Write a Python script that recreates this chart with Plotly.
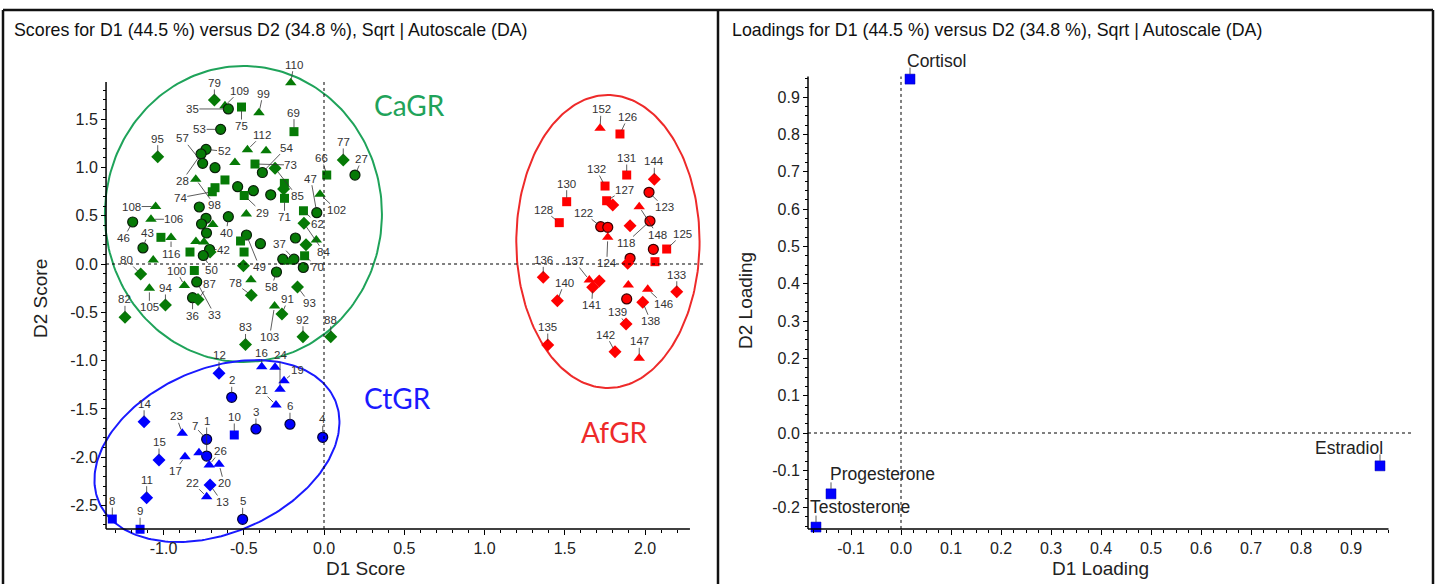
import numpy as np
import plotly.graph_objects as go

# ------------------------------------------------------------------
# DATA
# ------------------------------------------------------------------
# CaGR group (green)
ca_lab = ["110", "79", "109", "35", "75", "99", "69", "53", "95", "52", "28", "57", "",
          "112", "", "", "54", "73", "85", "77", "27", "66", "47", "102", "98", "", "",
          "74", "", "", "29", "", "", "71", "62", "84", "", "", "", "", "37", "70", "",
          "", "58", "", "49", "", "", "", "", "78", "93", "91", "103", "92", "88", "83",
          "108", "106", "46", "43", "", "116", "", "80", "105", "94", "82", "", "", "",
          "40", "", "", "", "42", "", "", "", "50", "", "", "100", "33", "36", "87", ""]
ca_sym = ["^", "d", "^", "o", "s", "^", "s", "o", "d", "o", "o", "o", "o",
          "^", "^", "^", "o", "s", "d", "d", "o", "s", "o", "^", "^", "s", "s",
          "s", "o", "o", "s", "o", "s", "s", "s", "d", "^", "o", "d", "o", "o", "s", "o",
          "^", "o", "d", "o", "o", "s", "s", "^", "d", "d", "d", "^", "d", "d", "d",
          "^", "^", "o", "o", "s", "^", "^", "d", "^", "d", "d", "o", "o", "o",
          "o", "^", "^", "o", "o", "^", "^", "d", "o", "s", "s", "^", "o", "o", "d", "d"]
ca_x = [-0.207, -0.683, -0.617, -0.596, -0.514, -0.405, -0.187, -0.644, -1.036, -0.735, -0.766, -0.756, -0.679,
        -0.477, -0.361, -0.555, -0.384, -0.430, -0.305, 0.120, 0.193, 0.017, -0.045, -0.025, -0.799, -0.617, -0.679,
        -0.696, -0.538, -0.440, -0.497, -0.332, -0.247, -0.246, -0.128, -0.125, -0.048, -0.178, -0.112, -0.257, -0.187, -0.121, -0.129,
        -0.218, -0.296, -0.502, -0.483, -0.396, -0.520, -0.498, -0.455, -0.453, -0.165, -0.262, -0.308, -0.131, 0.042, -0.489,
        -1.049, -1.078, -1.192, -1.128, -1.016, -0.953, -1.064, -1.142, -1.088, -0.988, -1.240, -0.777, -0.735, -0.763,
        -0.596, -0.693, -0.484, -0.732, -0.713, -0.798, -0.748, -0.710, -0.752, -0.835, -0.808, -0.870, -0.793, -0.819, -0.785, -0.252]
ca_y = [1.877, 1.698, 1.639, 1.605, 1.625, 1.566, 1.370, 1.394, 1.111, 1.187, 1.139, 1.042, 0.997,
        1.183, 1.173, 1.051, 0.947, 1.035, 0.991, 1.077, 0.921, 0.921, 0.531, 0.722, 0.877, 0.870, 0.790,
        0.748, 0.800, 0.759, 0.709, 0.716, 0.835, 0.680, 0.551, 0.421, 0.248, 0.269, 0.200, 0.050, 0.050, 0.085, -0.036,
        0.021, -0.083, -0.019, 0.300, 0.210, 0.238, 0.124, -0.164, -0.324, -0.238, -0.518, -0.435, -0.753, -0.753, -0.833,
        0.595, 0.463, 0.435, 0.166, 0.276, 0.274, 0.041, -0.104, -0.252, -0.424, -0.552, 0.590, 0.473, 0.414,
        0.490, 0.409, 0.518, 0.321, 0.150, 0.233, 0.228, 0.124, 0.088, 0.124, -0.067, -0.223, -0.186, -0.349, -0.367, 0.776]

# CtGR group (blue)
ct_lab = ["12", "16", "", "24", "19", "2", "21", "6", "14", "23", "7", "1", "10", "3", "4",
          "15", "17", "", "26", "20", "13", "22", "11", "5", "8", "9"]
ct_sym = ["d", "^", "^", "^", "^", "o", "^", "o", "d", "^", "o", "o", "s", "o", "o",
          "d", "^", "^", "^", "^", "d", "^", "d", "o", "s", "s"]
ct_x = [-0.654, -0.388, -0.305, -0.274, -0.249, -0.575, -0.299, -0.212, -1.121, -0.883, -0.731, -0.731, -0.559, -0.424, -0.008,
        -1.028, -0.866, -0.779, -0.715, -0.654, -0.710, -0.731, -1.105, -0.507, -1.319, -1.146]
ct_y = [-1.131, -1.063, -1.069, -1.297, -1.208, -1.380, -1.460, -1.659, -1.633, -1.753, -1.815, -1.988, -1.770, -1.708, -1.794,
        -2.029, -1.995, -1.953, -2.081, -2.073, -2.288, -2.409, -2.419, -2.643, -2.640, -2.746]

# AfGR group (red)
af_lab = ["152", "126", "131", "144", "132", "130", "127", "", "123", "148", "128", "122", "", "",
          "118", "124", "125", "", "", "", "", "136", "137", "", "141", "140", "", "146", "133",
          "", "138", "139", "135", "142", "147"]
af_sym = ["^", "s", "s", "d", "s", "s", "s", "d", "o", "^", "s", "o", "o", "d",
          "o", "^", "s", "o", "o", "d", "s", "d", "^", "d", "d", "d", "^", "^", "d",
          "o", "d", "d", "d", "d", "^"]
af_x = [1.720, 1.844, 1.886, 2.058, 1.751, 1.512, 1.761, 1.799, 2.025, 1.964, 1.466, 1.724, 1.768, 1.907,
        2.031, 1.768, 2.135, 2.052, 1.907, 1.892, 2.062, 1.366, 1.653, 1.715, 1.674, 1.454, 1.896, 2.017, 2.198,
        1.886, 1.986, 1.882, 1.394, 1.813, 1.964]
af_y = [1.405, 1.346, 0.921, 0.877, 0.807, 0.645, 0.655, 0.611, 0.742, 0.593, 0.428, 0.386, 0.380, 0.396,
        0.445, 0.276, 0.155, 0.152, 0.059, 0.007, 0.024, -0.138, -0.166, -0.176, -0.241, -0.380, -0.217, -0.262, -0.287,
        -0.362, -0.396, -0.621, -0.839, -0.908, -0.976]

# Loadings
ld_names = ["Cortisol", "Progesterone", "Testosterone", "Estradiol"]
ld_x = [0.018, -0.140, -0.170, 0.958]
ld_y = [0.948, -0.163, -0.252, -0.088]

# group ellipses: centre x, centre y, semi-axis a, semi-axis b, angle (deg)
ell_ca = (-0.502, 0.518, 0.863, 1.532, 0.0)
ell_ct = (-0.667, -1.936, 1.005, 0.678, 61.8)
ell_af = (1.769, 0.233, 0.571, 1.517, 0.0)

title_scores = "Scores for D1 (44.5 %) versus D2 (34.8 %), Sqrt | Autoscale (DA)"
title_loads = "Loadings for D1 (44.5 %) versus D2 (34.8 %), Sqrt | Autoscale (DA)"

# ------------------------------------------------------------------
# label offsets (pixels, text centre relative to point)
# ------------------------------------------------------------------
ca_off = [(3, -18), (0, -17), (15, -15), (-36, 0), (0, 19), (4, -19), (0, -19), (-21, 0), (0, -18), (18, 2), (-19, 27), (-20, -25), None,
          (15, -15), None, None, (24, -25), (36, 1), (22, 28), (0, -18), (7, -16), (-5, -17), (-6, -34), (17, 16), (19, 26), None, None,
          (-32, 6), None, None, (18, 17), None, None, (0, 19), (14, 13), (20, 29), None, None, None, None, (-14, -15), (13, 11), None,
          None, (-5, 15), None, (13, 32), None, None, None, None, (-16, -12), (12, 16), (6, -15), (-5, 31), (0, -17), (0, -17), (0, -17),
          (-24, 0), (23, 0), (-9, 16), (5, -15), None, (0, 16), None, (-14, -14), (0, 19), (0, -17), (0, -18), None, None, None,
          (-2, 16), None, None, None, (14, 0), None, None, None, (8, 14), None, None, (-8, -15), (18, 33), (0, 18), (11, -15), None]
ct_off = [(0, -18), (0, -14), None, (0, -34), (13, -11), (0, -17), (-15, -15), (0, -18), (0, -18), (-6, -17), (-12, -13), (0, -35),
          (0, -18), (0, -17), (0, -18), (0, -18), (-10, 14), None, (11, -14), (5, 19), (12, 17), (-14, -14), (0, -18), (0, -18),
          (0, -18), (0, -18)]
af_off = [(1, -19), (8, -17), (0, -17), (0, -18), (-9, -17), (0, -18), (18, -11), None, (15, 15), (18, 28), (-16, -13), (-17, -14),
          None, None, (-24, 22), (-1, 26), (16, -15), None, None, None, None, (0, -17), (-15, -19), None, (-1, 18), (7, -18), None,
          (16, 15), (0, -17), None, (8, 19), (-9, -12), (0, -18), (-9, -17), (0, -17)]

# ------------------------------------------------------------------
# geometry of the page (pixels)
# ------------------------------------------------------------------
W, H = 1435, 584
FONT = "Liberation Sans, Arial, sans-serif"
GFONT = "Lato, Open Sans, sans-serif"


def fx(p):
    return p / W


def fy(p):
    return 1 - p / H


# scores panel: axis extents (data) and plot-area pixels
S_X0, S_X1, S_Y0, S_Y1 = -1.358, 2.28, -2.743, 1.884
S_PX = (85, 705)
S_PY = (55, 550)
S_XR = [(85 - 324) / 160.5, (705 - 324) / 160.5]
S_YR = [(264 - 550) / 96.6, (264 - 55) / 96.6]

# loadings panel
L_X0, L_X1, L_Y0, L_Y1 = -0.186, 0.975, -0.257, 0.955
L_PX = (795, 1425)
L_PY = (55, 550)
L_XR = [(795 - 901) / 500.0, (1425 - 901) / 500.0]
L_YR = [(433 - 550) / 373.3, (433 - 55) / 373.3]

SYM = {"o": "circle", "s": "square", "^": "triangle-up", "d": "diamond"}
SIZE = {"o": 10, "s": 9, "^": 10, "d": 10}

fig = go.Figure()


def ellipse(p, color):
    cx, cy, a, b, ang = p
    t = np.linspace(0, 2 * np.pi, 241)
    th = np.deg2rad(ang)
    ex = cx + a * np.cos(t) * np.cos(th) - b * np.sin(t) * np.sin(th)
    ey = cy + a * np.cos(t) * np.sin(th) + b * np.sin(t) * np.cos(th)
    fig.add_trace(go.Scatter(x=ex, y=ey, mode="lines", line=dict(color=color, width=2),
                             hoverinfo="skip", showlegend=False, xaxis="x", yaxis="y"))


ellipse(ell_ca, "#1fa35a")
ellipse(ell_ct, "#1a1aff")
ellipse(ell_af, "#ee2a2a")


def group(xs, ys, syms, color, circ_edge):
    fig.add_trace(go.Scatter(
        x=xs, y=ys, mode="markers", xaxis="x", yaxis="y", showlegend=False, cliponaxis=False,
        marker=dict(symbol=[SYM[s] for s in syms], size=[SIZE[s] for s in syms], color=color, opacity=1,
                    line=dict(color=[circ_edge if s == "o" else color for s in syms],
                              width=[1.2 if s == "o" else 0 for s in syms]))))


group(ca_x, ca_y, ca_sym, "#067a06", "#0a200a")
group(ct_x, ct_y, ct_sym, "#0000ff", "#00003a")
group(af_x, af_y, af_sym, "#ff0000", "#3a0000")

annotations = []


def labels(xs, ys, labs, offs):
    for x, y, lab, off in zip(xs, ys, labs, offs):
        if not lab or off is None:
            continue
        annotations.append(dict(
            x=x, y=y, xref="x", yref="y", text=lab, showarrow=True, ax=off[0], ay=off[1],
            arrowhead=0, arrowwidth=0.8, arrowcolor="#333333", standoff=4,
            font=dict(family=FONT, size=11.5, color="#333333"), borderpad=0))


labels(ca_x, ca_y, ca_lab, ca_off)
labels(ct_x, ct_y, ct_lab, ct_off)
labels(af_x, af_y, af_lab, af_off)

# loadings markers
fig.add_trace(go.Scatter(x=ld_x, y=ld_y, mode="markers", xaxis="x2", yaxis="y2", showlegend=False,
                         cliponaxis=False,
                         marker=dict(symbol="square", size=10, color="#0000ff", opacity=1,
                                     line=dict(color="#0000aa", width=0.5))))
ld_text_shift = [(-5, 18, "left"), (-3, 20, "left"), (-8, 20, "left"), (5, 18, "right")]
for x, y, name, (xs, ys, anc) in zip(ld_x, ld_y, ld_names, ld_text_shift):
    annotations.append(dict(x=x, y=y, xref="x2", yref="y2", text=name, showarrow=False,
                            xanchor=anc, yanchor="middle", xshift=xs, yshift=ys,
                            font=dict(family=FONT, size=17.5, color="#222222")))
    annotations.append(dict(x=x, y=y, xref="x2", yref="y2", text="", showarrow=True, ax=0, ay=-13,
                            arrowhead=0, arrowwidth=0.8, arrowcolor="#333333", standoff=5))


def ptext(x, y, text, size, color, family=FONT, angle=0, anchor="center"):
    return dict(x=fx(x), y=fy(y), xref="paper", yref="paper", text=text, showarrow=False,
                xanchor=anchor, yanchor="middle", textangle=angle,
                font=dict(family=family, size=size, color=color))


annotations += [
    ptext(12, 30, title_scores, 17.8, "#111111", anchor="left"),
    ptext(730, 30, title_loads, 17.8, "#111111", anchor="left"),
    ptext(365, 568, "D1 Score", 19, "#222222"),
    ptext(40, 299, "D2 Score", 19, "#222222", angle=-90),
    ptext(1100, 568, "D1 Loading", 19, "#222222"),
    ptext(745, 300, "D2 Loading", 19, "#222222", angle=-90),
    ptext(409, 105, "CaGR", 28, "#1fa35a", family=GFONT),
    ptext(397, 398, "CtGR", 28, "#1a1aff", family=GFONT),
    ptext(614, 432, "AfGR", 28, "#ee2a2a", family=GFONT),
]

shapes = []
shapes += [
    dict(type="line", xref="x", yref="y", x0=S_X0, x1=S_X0, y0=S_Y0, y1=S_Y1, line=dict(color="black", width=1.5)),
    dict(type="line", xref="x", yref="y", x0=S_X0, x1=S_X1, y0=S_Y0, y1=S_Y0, line=dict(color="black", width=1.5)),
    dict(type="line", xref="x", yref="y", x0=0, x1=0, y0=S_Y0, y1=S_Y1, line=dict(color="black", width=1, dash="dot")),
    dict(type="line", xref="x", yref="y", x0=S_X0, x1=S_X1 + 0.1, y0=0, y1=0, line=dict(color="black", width=1, dash="dot")),
]
shapes += [
    dict(type="line", xref="x2", yref="y2", x0=L_X0, x1=L_X0, y0=L_Y0, y1=L_Y1, line=dict(color="black", width=1.5)),
    dict(type="line", xref="x2", yref="y2", x0=L_X0, x1=L_X1, y0=L_Y0, y1=L_Y0, line=dict(color="black", width=1.5)),
    dict(type="line", xref="x2", yref="y2", x0=0, x1=0, y0=L_Y0, y1=L_Y1, line=dict(color="black", width=1, dash="dot")),
    dict(type="line", xref="x2", yref="y2", x0=L_X0, x1=1.025, y0=0, y1=0, line=dict(color="black", width=1, dash="dot")),
]
frame = dict(color="#111111", width=2.5)
shapes += [
    dict(type="line", xref="paper", yref="paper", x0=fx(3), x1=fx(1433), y0=fy(10), y1=fy(10), line=frame),
    dict(type="line", xref="paper", yref="paper", x0=fx(3), x1=fx(3), y0=fy(10), y1=0, line=frame),
    dict(type="line", xref="paper", yref="paper", x0=fx(718), x1=fx(718), y0=fy(10), y1=0, line=frame),
    dict(type="line", xref="paper", yref="paper", x0=fx(1433), x1=fx(1433), y0=fy(10), y1=0, line=frame),
]

tickfont = dict(family=FONT, size=16, color="#222222")
s_xmaj = [-1.0, -0.5, 0.0, 0.5, 1.0, 1.5, 2.0]
s_ymaj = [-2.5, -2.0, -1.5, -1.0, -0.5, 0.0, 0.5, 1.0, 1.5]
s_xmin = [round(v, 2) for v in np.arange(-1.3, 2.25, 0.1)]
s_ymin = [round(v, 2) for v in np.arange(-2.7, 1.85, 0.1)]
l_xmaj = [round(v, 2) for v in np.arange(-0.1, 0.95, 0.1)]
l_ymaj = [round(v, 2) for v in np.arange(-0.2, 0.95, 0.1)]
l_xmin = [round(v, 3) for v in np.arange(-0.175, 0.976, 0.025)]
l_ymin = [round(v, 3) for v in np.arange(-0.25, 0.951, 0.025)]


def ax_common(tv, mv, fmt):
    return dict(tickmode="array", tickvals=tv, ticktext=[fmt.format(v) for v in tv],
                ticks="outside", ticklen=5, tickwidth=1, tickcolor="black",
                showline=False, showgrid=False, zeroline=False, tickfont=tickfont,
                minor=dict(tickmode="array", tickvals=mv, ticks="outside", ticklen=3,
                           tickwidth=1, tickcolor="black", showgrid=False),
                fixedrange=True)


fig.update_layout(
    width=W, height=H, margin=dict(l=0, r=0, t=0, b=0),
    paper_bgcolor="white", plot_bgcolor="rgba(0,0,0,0)", showlegend=False,
    xaxis=dict(domain=[fx(S_PX[0]), fx(S_PX[1])], range=S_XR, anchor="free", position=fy(529),
               **ax_common(s_xmaj, s_xmin, "{:.1f}")),
    yaxis=dict(domain=[fy(S_PY[1]), fy(S_PY[0])], range=S_YR, anchor="free", position=fx(106),
               **ax_common(s_ymaj, s_ymin, "{:.1f}")),
    xaxis2=dict(domain=[fx(L_PX[0]), fx(L_PX[1])], range=L_XR, anchor="free", position=fy(529),
                **ax_common(l_xmaj, l_xmin, "{:.1f}")),
    yaxis2=dict(domain=[fy(L_PY[1]), fy(L_PY[0])], range=L_YR, anchor="free", position=fx(808),
                **ax_common(l_ymaj, l_ymin, "{:.1f}")),
    annotations=annotations, shapes=shapes,
)

fig.write_html("out.html", config={"displayModeBar": False},
               post_script="document.body.style.margin='0';document.body.style.overflow='hidden';")
